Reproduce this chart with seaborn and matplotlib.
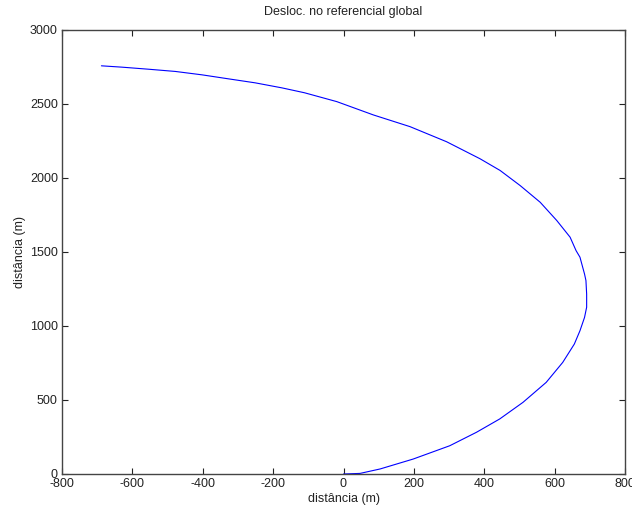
import matplotlib
matplotlib.use("Agg")
import matplotlib.pyplot as plt
import seaborn as sns
import pandas as pd

x_m = [0, 47, 104, 198, 302, 378, 444, 510, 576, 623, 656, 672, 685, 691, 691,
       689, 685, 672, 661, 644, 606, 559, 502, 445, 388, 293, 189, 85, -19,
       -111, -175, -251, -327, -402, -478, -554, -630, -688]
y_m = [0, 4, 34, 101, 191, 282, 372, 484, 619, 754, 878, 968, 1058, 1127, 1216,
       1307, 1351, 1465, 1509, 1600, 1713, 1836, 1949, 2051, 2130, 2245, 2347, 2426, 2516,
       2576, 2609, 2643, 2670, 2697, 2720, 2735, 2749, 2758]
x_ticks = [-800, -600, -400, -200, 0, 200, 400, 600, 800]
y_ticks = [0, 500, 1000, 1500, 2000, 2500, 3000]

title = "Desloc. no referencial global"
xlabel = "distância (m)"
ylabel = "distância (m)"

sns.set_theme(style="white")
plt.rcParams['font.family'] = ['Liberation Sans', 'DejaVu Sans']

df = pd.DataFrame({"x": x_m, "y": y_m, "order": range(len(x_m))})

fig = plt.figure(figsize=(6.32, 5.08), dpi=100)
ax = fig.add_axes([62 / 632, 34 / 508, 563 / 632, 444 / 508])
sns.lineplot(data=df, x="x", y="y", sort=False, estimator=None, color="#0000ff",
             linewidth=0.8, ax=ax)

ax.set_xlim(-800, 800)
ax.set_ylim(0, 3000)
ax.set_xticks(x_ticks)
ax.set_yticks(y_ticks)
ax.set_xticklabels([str(v) for v in x_ticks])
ax.set_yticklabels([str(v) for v in y_ticks])
ax.tick_params(direction="in", length=4, width=0.8, colors="#222222", labelsize=9,
               top=True, right=True, bottom=True, left=True, pad=3)
for s in ax.spines.values():
    s.set_color("#444444")
    s.set_linewidth(1.0)
    s.set_visible(True)
ax.set_title(title, fontsize=9, color="#222222", pad=11)
ax.set_xlabel(xlabel, fontsize=9, color="#222222", labelpad=2)
ax.set_ylabel(ylabel, fontsize=9, color="#222222", labelpad=3)
ax.grid(False)

fig.savefig("out.png", dpi=100, facecolor="white")
